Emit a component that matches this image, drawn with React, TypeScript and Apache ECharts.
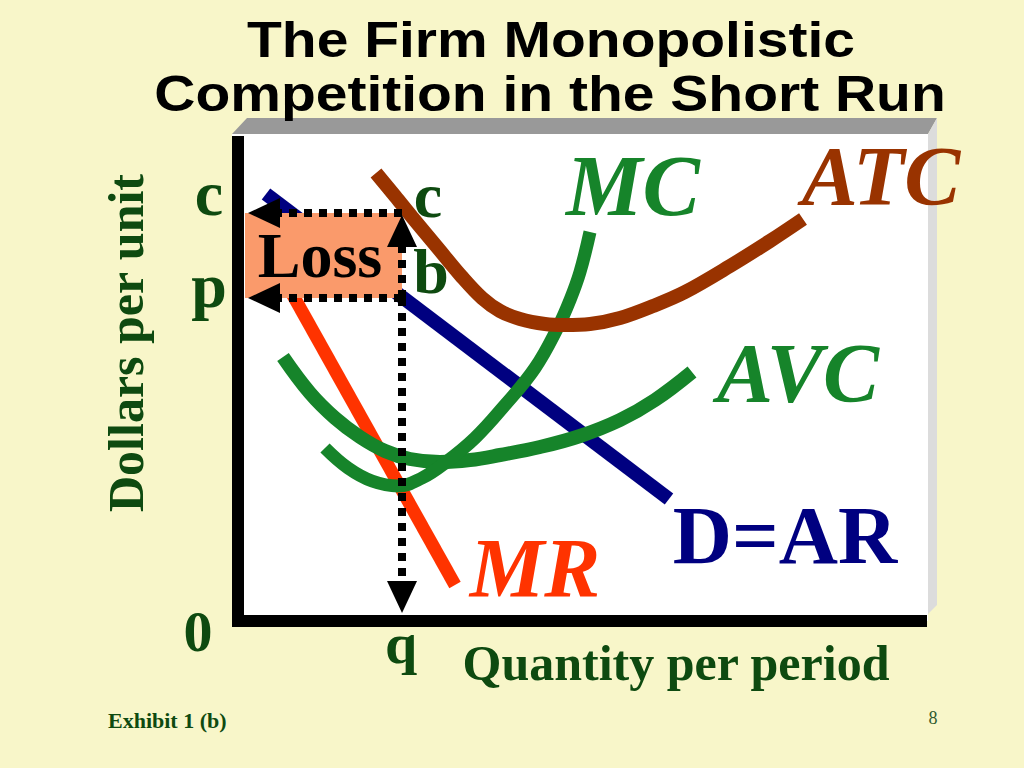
import React, { useEffect, useRef } from "react";
import * as echarts from "echarts";

// ---- data (value units on the chart's own axes) ----
const X_MAX = 683;
const Y_MAX = 479;

const atcX = [138, 157, 174, 199, 224, 244, 262, 282, 307, 327, 352, 382, 415, 447, 492, 532, 565];
const atcY = [448, 425, 404, 374, 344, 323, 310, 302, 297, 296, 297, 303, 315, 329, 355, 380, 402];

const mcX = [87, 110, 134, 160, 184, 207, 237, 267, 297, 320, 332, 342, 352];
const mcY = [173, 153, 140, 135, 143, 158, 183, 216, 253, 294, 321, 349, 389];

const avcX = [45, 72, 97, 122, 147, 172, 202, 232, 262, 302, 342, 382, 417, 454];
const avcY = [264, 228, 203, 184, 170, 162, 159, 161, 166, 174, 185, 201, 221, 249];

const dX = [28, 431];
const dY = [427, 122];

const mrX = [47, 217];
const mrY = [340, 36];

// key levels
const qX = 164; // quantity q
const pY = 323; // price p (point b)
const cY = 408; // average total cost c
const lossLeft = 7;

// arrow tips
const tipLeftX = 10;
const tipUpY = 406;
const tipDownY = 8;
const ARROW_LEN = 32;

const TITLE_LINES = ["The Firm Monopolistic", "Competition in the Short Run"];
const CURVE_LABELS = ["MC", "ATC", "AVC", "D=AR", "MR"];
const AXIS_NAMES = ["Dollars per unit", "Quantity per period"];
const POINT_LABELS = ["c", "b", "c", "p", "0", "q"];

const zip = (xs: number[], ys: number[]) => xs.map((x, i) => [x, ys[i]]);

const SERIF = '"Liberation Serif", "Times New Roman", serif';
const SANS = '"Liberation Sans", Arial, sans-serif';
const DARK_GREEN = "#0E4A10";
const GREEN = "#16842A";

export default function App() {
  const ref = useRef<HTMLDivElement>(null);

  useEffect(() => {
    if (!ref.current) return;
    const chart = echarts.init(ref.current, null, { renderer: "svg" });

    const txt = (
      text: string,
      x: number,
      y: number,
      font: string,
      fill: string,
      extra: any = {}
    ) => ({
      type: "text",
      x,
      y,
      z: 20,
      silent: true,
      ...extra,
      style: { text, font, fill, align: "center", verticalAlign: "middle" },
    });

    const option: any = {
      animation: false,
      backgroundColor: "#F8F6C9",
      grid: { left: 238, top: 142, width: X_MAX, height: Y_MAX },
      xAxis: {
        type: "value",
        min: 0,
        max: X_MAX,
        z: 6,
        axisLine: { show: true, lineStyle: { color: "#000", width: 12, cap: "square" } },
        axisTick: { show: false },
        axisLabel: { show: false },
        splitLine: { show: false },
      },
      yAxis: {
        type: "value",
        min: 0,
        max: Y_MAX,
        z: 6,
        axisLine: { show: true, lineStyle: { color: "#000", width: 12, cap: "square" } },
        axisTick: { show: false },
        axisLabel: { show: false },
        splitLine: { show: false },
      },
      graphic: {
        elements: [
          // 3D board
          {
            type: "rect",
            z: 0,
            silent: true,
            shape: { x: 232, y: 134, width: 696, height: 487 },
            style: { fill: "#FFFFFF" },
          },
          {
            type: "polygon",
            z: 0,
            silent: true,
            shape: { points: [[232, 134], [247, 118], [937, 118], [928, 134]] },
            style: { fill: "#999999" },
          },
          {
            type: "polygon",
            z: 0,
            silent: true,
            shape: { points: [[928, 134], [937, 118], [937, 605], [928, 614]] },
            style: { fill: "#DCDCDC" },
          },
          // title
          txt(TITLE_LINES[0], 551, 39, `bold 50px ${SANS}`, "#000", { scaleX: 1.14 }),
          txt(TITLE_LINES[1], 550, 93, `bold 50px ${SANS}`, "#000", { scaleX: 1.14 }),
          // curve labels
          txt(CURVE_LABELS[0], 633, 186, `italic bold 86px ${SERIF}`, GREEN),
          txt(CURVE_LABELS[1], 881, 176, `italic bold 84px ${SERIF}`, "#993300"),
          txt(CURVE_LABELS[2], 798, 373, `italic bold 84px ${SERIF}`, GREEN),
          txt(CURVE_LABELS[3], 785, 535, `bold 82px ${SERIF}`, "#000080"),
          txt(CURVE_LABELS[4], 535, 568, `italic bold 84px ${SERIF}`, "#FF3300"),
          // Loss
          txt("Loss", 320, 255, `bold 64px ${SERIF}`, "#000"),
          // point labels
          txt(POINT_LABELS[0], 428, 195, `bold 64px ${SERIF}`, DARK_GREEN),
          txt(POINT_LABELS[1], 431, 271, `bold 64px ${SERIF}`, DARK_GREEN),
          txt(POINT_LABELS[2], 209, 193, `bold 64px ${SERIF}`, DARK_GREEN),
          txt(POINT_LABELS[3], 209, 285, `bold 64px ${SERIF}`, DARK_GREEN),
          txt(POINT_LABELS[4], 198, 631, `bold 58px ${SERIF}`, DARK_GREEN),
          txt(POINT_LABELS[5], 401, 643, `bold 58px ${SERIF}`, DARK_GREEN),
          // axis names
          txt(AXIS_NAMES[0], 126, 343, `bold 50px ${SERIF}`, DARK_GREEN, { rotation: Math.PI / 2 }),
          txt(AXIS_NAMES[1], 676, 663, `bold 50px ${SERIF}`, DARK_GREEN),
          // footer
          {
            type: "text",
            x: 108,
            y: 720,
            z: 20,
            silent: true,
            style: {
              text: "Exhibit 1 (b)",
              font: `bold 22px ${SERIF}`,
              fill: DARK_GREEN,
              align: "left",
              verticalAlign: "middle",
            },
          },
          txt("8", 933, 718, `18px ${SERIF}`, "#2E5A2E"),
        ],
      },
      series: [
        {
          name: "D=AR",
          type: "line",
          z: 2,
          data: zip(dX, dY),
          symbol: "none",
          lineStyle: { color: "#000080", width: 14 },
        },
        {
          name: "MR",
          type: "line",
          z: 2,
          data: zip(mrX, mrY),
          symbol: "none",
          lineStyle: { color: "#FF3300", width: 13 },
        },
        {
          name: "Loss",
          type: "custom",
          z: 3,
          data: [[lossLeft, pY, qX, cY]],
          encode: { x: [0, 2], y: [1, 3] },
          renderItem: (params: any, api: any) => {
            const p0 = api.coord([api.value(0), api.value(3)]);
            const p1 = api.coord([api.value(2), api.value(1)]);
            return {
              type: "rect",
              shape: { x: p0[0], y: p0[1], width: p1[0] - p0[0], height: p1[1] - p0[1] },
              style: { fill: "#FA9A6B" },
            };
          },
        },
        {
          name: "AVC",
          type: "line",
          z: 4,
          data: zip(avcX, avcY),
          symbol: "none",
          smooth: 0.4,
          lineStyle: { color: GREEN, width: 14 },
        },
        {
          name: "MC",
          type: "line",
          z: 4,
          data: zip(mcX, mcY),
          symbol: "none",
          smooth: 0.4,
          lineStyle: { color: GREEN, width: 13 },
        },
        {
          name: "ATC",
          type: "line",
          z: 4,
          data: zip(atcX, atcY),
          symbol: "none",
          smooth: 0.35,
          lineStyle: { color: "#993300", width: 14 },
        },
        {
          name: "guides",
          type: "line",
          z: 6,
          data: [],
          markLine: {
            silent: true,
            z: 6,
            symbol: ["none", "triangle"],
            symbolSize: [30, ARROW_LEN],
            label: { show: false },
            lineStyle: { color: "#000", width: 8, type: [8, 7], cap: "butt" },
            emphasis: { disabled: true },
            data: [
              [{ coord: [qX, cY] }, { coord: [tipLeftX + ARROW_LEN / 2, cY] }],
              [{ coord: [qX, pY] }, { coord: [tipLeftX + ARROW_LEN / 2, pY] }],
              [{ coord: [qX, pY] }, { coord: [qX, tipUpY - ARROW_LEN / 2] }],
              [{ coord: [qX, pY] }, { coord: [qX, tipDownY + ARROW_LEN / 2] }],
            ],
          },
        },
      ],
    };

    chart.setOption(option);
    return () => chart.dispose();
  }, []);

  return (
    <div
      ref={ref}
      style={{ position: "absolute", left: 0, top: 0, width: 1024, height: 768 }}
    />
  );
}
